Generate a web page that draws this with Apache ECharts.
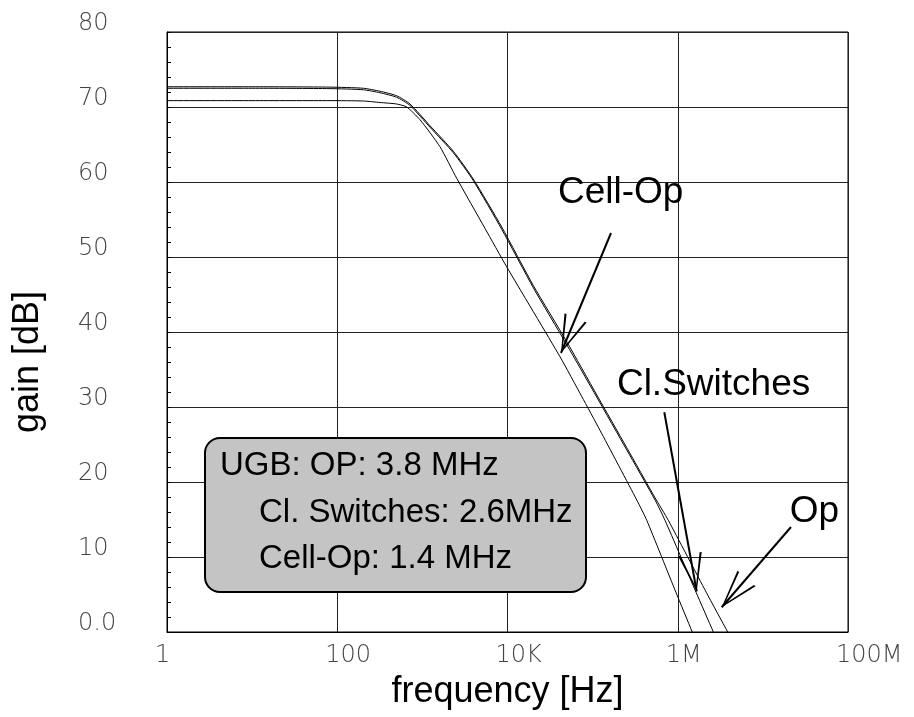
<!DOCTYPE html>
<html>
<head>
<meta charset="utf-8">
<title>Open-loop gain</title>
<script src="https://cdn.jsdelivr.net/npm/echarts@6/dist/echarts.min.js"></script>
<style>
  html, body { margin: 0; padding: 0; background: #fff; }
  #chart { width: 914px; height: 717px; }
</style>
</head>
<body>
<div id="chart"></div>
<script>
// Axis ticks
const freqTickLabels = ['1', '100', '10K', '1M', '100M'];
const gainTickLabels = ['0.0', '10', '20', '30', '40', '50', '60', '70', '80'];

// Op: frequency [Hz] and gain [dB]
const opFreq = [1, 10, 82, 202, 318, 499, 716, 1230, 2310, 3960, 8550, 20100, 49700, 112000, 251000, 541000, 774000, 2160000, 3860000, 4800000];
const opGain = [72.7, 72.7, 72.65, 72.5, 72.1, 71.5, 70.4, 67.5, 64.1, 60.4, 54.0, 46.2, 38.7, 31.6, 24.6, 17.9, 14.9, 5.3, 0.0, -2.0];

// Cl.Switches
const switchFreq = [1, 10, 82, 202, 318, 499, 716, 1230, 2310, 3960, 8550, 20100, 49700, 112000, 251000, 541000, 708000, 1640000, 2620000, 3100000];
const switchGain = [72.5, 72.5, 72.45, 72.3, 71.9, 71.3, 70.2, 67.3, 63.9, 60.2, 53.7, 45.9, 38.3, 31.3, 24.3, 17.6, 14.9, 5.3, 0.0, -2.0];

// Cell-Op
const cellFreq = [1, 10, 82, 202, 318, 499, 655, 938, 1610, 2530, 5450, 9770, 41400, 74500, 122000, 330000, 432000, 951000, 1480000, 1740000];
const cellGain = [70.85, 70.85, 70.85, 70.8, 70.6, 70.4, 70.0, 68.3, 64.7, 60.5, 53.8, 48.7, 36.7, 31.4, 26.9, 17.6, 14.9, 5.3, 0.0, -2.0];

// Curve annotations: label anchor (left, middle), arrow start and arrow tip, all in [Hz, dB]
const annotationNames = ['Cell-Op', 'Cl.Switches', 'Op'];
const annotationLabelAt = [[39200, 58.5], [193000, 33.0], [20700000, 16.0]];
const annotationFrom = [[164400, 53.2], [695000, 29.3], [21400000, 14.0]];
const annotationTo = [[42500, 37.2], [1670000, 5.4], [3282000, 3.3]];

// Unity-gain bandwidth summary
const ugbLines = ['UGB: OP: 3.8 MHz', 'Cl. Switches: 2.6MHz', 'Cell-Op: 1.4 MHz'];

const zip = (xs, ys) => xs.map((x, i) => [x, ys[i]]);

const tickFont = { fontFamily: 'DejaVu Sans', fontWeight: 200, fontSize: 24, color: '#444' };
const textFont = 'Liberation Sans, Arial, sans-serif';

// Open chevron arrow head, tip at the top
const arrowHead = 'path://M12,0 L24,38 L21.8,38 L12,4.6 L2.2,38 L0,38 Z';

function arrowMarkLine(idx) {
  return {
    silent: true,
    animation: false,
    symbol: ['none', arrowHead],
    symbolSize: [0, 38],
    label: { show: false },
    lineStyle: { color: '#000', width: 2, type: 'solid' },
    emphasis: { disabled: true },
    data: [[
      { coord: annotationFrom[idx] },
      { coord: annotationTo[idx], symbolSize: [24, 38], symbolOffset: [0, 19], itemStyle: { color: '#000' } }
    ]]
  };
}

function curve(name, data, idx) {
  return {
    name: name,
    type: 'line',
    data: data,
    showSymbol: false,
    smooth: 0.2,
    lineStyle: { color: '#000', width: 1 },
    itemStyle: { color: '#000' },
    emphasis: { disabled: true },
    silent: true,
    z: 3,
    markLine: arrowMarkLine(idx)
  };
}

const chart = echarts.init(document.getElementById('chart'), null, { renderer: 'canvas' });

chart.setOption({
  animation: false,
  backgroundColor: '#fff',
  grid: {
    left: 167, top: 32, width: 681, height: 600,
    show: true, borderColor: '#000', borderWidth: 1,
    containLabel: false, outerBoundsMode: 'none'
  },
  xAxis: {
    type: 'log',
    logBase: 10,
    min: 1,
    max: 1e8,
    interval: 2,
    name: 'frequency [Hz]',
    nameLocation: 'middle',
    nameGap: 60,
    nameTextStyle: { fontFamily: textFont, fontSize: 36, color: '#000', verticalAlign: 'middle' },
    axisLine: { show: true, lineStyle: { color: '#000', width: 1 } },
    axisTick: { show: false },
    splitLine: { show: true, lineStyle: { color: '#222', width: 1 } },
    axisLabel: Object.assign({
      margin: 12,
      align: 'left',
      padding: [0, 0, 0, -12],
      formatter: v => freqTickLabels[Math.round(Math.log10(v) / 2)] || ''
    }, tickFont)
  },
  yAxis: {
    type: 'value',
    min: 0,
    max: 80,
    interval: 10,
    axisLine: { show: true, lineStyle: { color: '#000', width: 1 } },
    axisTick: { show: true, inside: true, length: 4, lineStyle: { color: '#000' } },
    minorTick: { show: true, splitNumber: 5, length: 4, lineStyle: { color: '#000' } },
    splitLine: { show: true, lineStyle: { color: '#222', width: 1 } },
    axisLabel: Object.assign({
      margin: 89,
      align: 'left',
      verticalAlign: 'bottom',
      lineHeight: 16,
      formatter: v => gainTickLabels[Math.round(v / 10)]
    }, tickFont)
  },
  series: [
    curve('Op', zip(opFreq, opGain), 2),
    curve('Cl.Switches', zip(switchFreq, switchGain), 1),
    curve('Cell-Op', zip(cellFreq, cellGain), 0)
  ]
});

// Text and boxes placed over the plot
const graphics = [];

graphics.push({
  type: 'text',
  x: 28, y: 362,
  rotation: Math.PI / 2,
  style: { text: 'gain [dB]', font: '36px ' + textFont, fill: '#000', align: 'center', verticalAlign: 'middle' },
  z: 20
});

annotationNames.forEach((name, i) => {
  const p = chart.convertToPixel({ gridIndex: 0 }, annotationLabelAt[i]);
  graphics.push({
    type: 'text',
    x: p[0], y: p[1],
    style: { text: name, font: '37px ' + textFont, fill: '#000', align: 'left', verticalAlign: 'middle' },
    z: 20
  });
});

graphics.push({
  type: 'rect',
  shape: { x: 205, y: 438, width: 381, height: 154, r: 15 },
  style: { fill: '#c4c4c4', stroke: '#000', lineWidth: 2 },
  z: 15
});
const ugbX = [220, 259, 259];
const ugbY = [466, 513, 559];
ugbLines.forEach((line, i) => {
  graphics.push({
    type: 'text',
    x: ugbX[i], y: ugbY[i],
    style: { text: line, font: '33px ' + textFont, fill: '#000', align: 'left', verticalAlign: 'middle' },
    z: 16
  });
});

chart.setOption({ graphic: graphics });
</script>
</body>
</html>
